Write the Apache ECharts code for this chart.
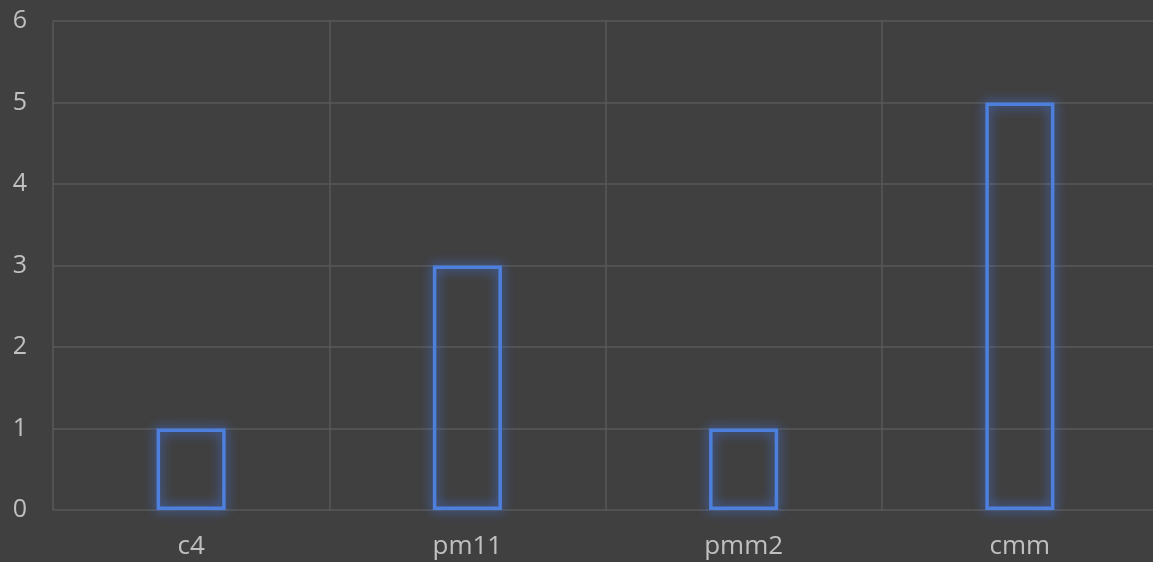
<!DOCTYPE html>
<html>
<head>
<meta charset="utf-8">
<style>
  html, body { margin: 0; padding: 0; background: #404040; overflow: hidden; }
  #chart { width: 1170px; height: 562px; }
</style>
<script src="https://cdn.jsdelivr.net/npm/echarts@6/dist/echarts.min.js"></script>
</head>
<body>
<div id="chart"></div>
<script>
// Counts per category
const categories = ['c4', 'pm11', 'pmm2', 'cmm'];
const counts = [1, 3, 1, 5];

const chart = echarts.init(document.getElementById('chart'));
chart.setOption({
  backgroundColor: '#404040',
  animation: false,
  grid: { left: 53, right: 12, top: 21, bottom: 52 },
  xAxis: {
    type: 'category',
    data: categories,
    axisLine: { show: false },
    axisTick: { show: false },
    splitLine: { show: true, lineStyle: { color: '#585858', width: 1.5 } },
    axisLabel: {
      color: '#c0c0c0',
      fontFamily: 'Open Sans, sans-serif',
      fontSize: 26,
      margin: 24
    }
  },
  yAxis: {
    type: 'value',
    min: 0,
    max: 6,
    interval: 1,
    axisLine: { show: false },
    axisTick: { show: false },
    splitLine: { show: true, lineStyle: { color: '#585858', width: 1.5 } },
    axisLabel: {
      color: '#c0c0c0',
      fontFamily: 'Open Sans, sans-serif',
      fontSize: 25,
      margin: 26
    }
  },
  series: [{
    type: 'bar',
    data: counts,
    barWidth: '25%',
    itemStyle: {
      color: 'rgba(64,64,64,0)',
      borderColor: '#4d7fdc',
      borderWidth: 3.5,
      shadowBlur: 12,
      shadowColor: 'rgba(70,120,235,1)'
    }
  }]
});
</script>
</body>
</html>
